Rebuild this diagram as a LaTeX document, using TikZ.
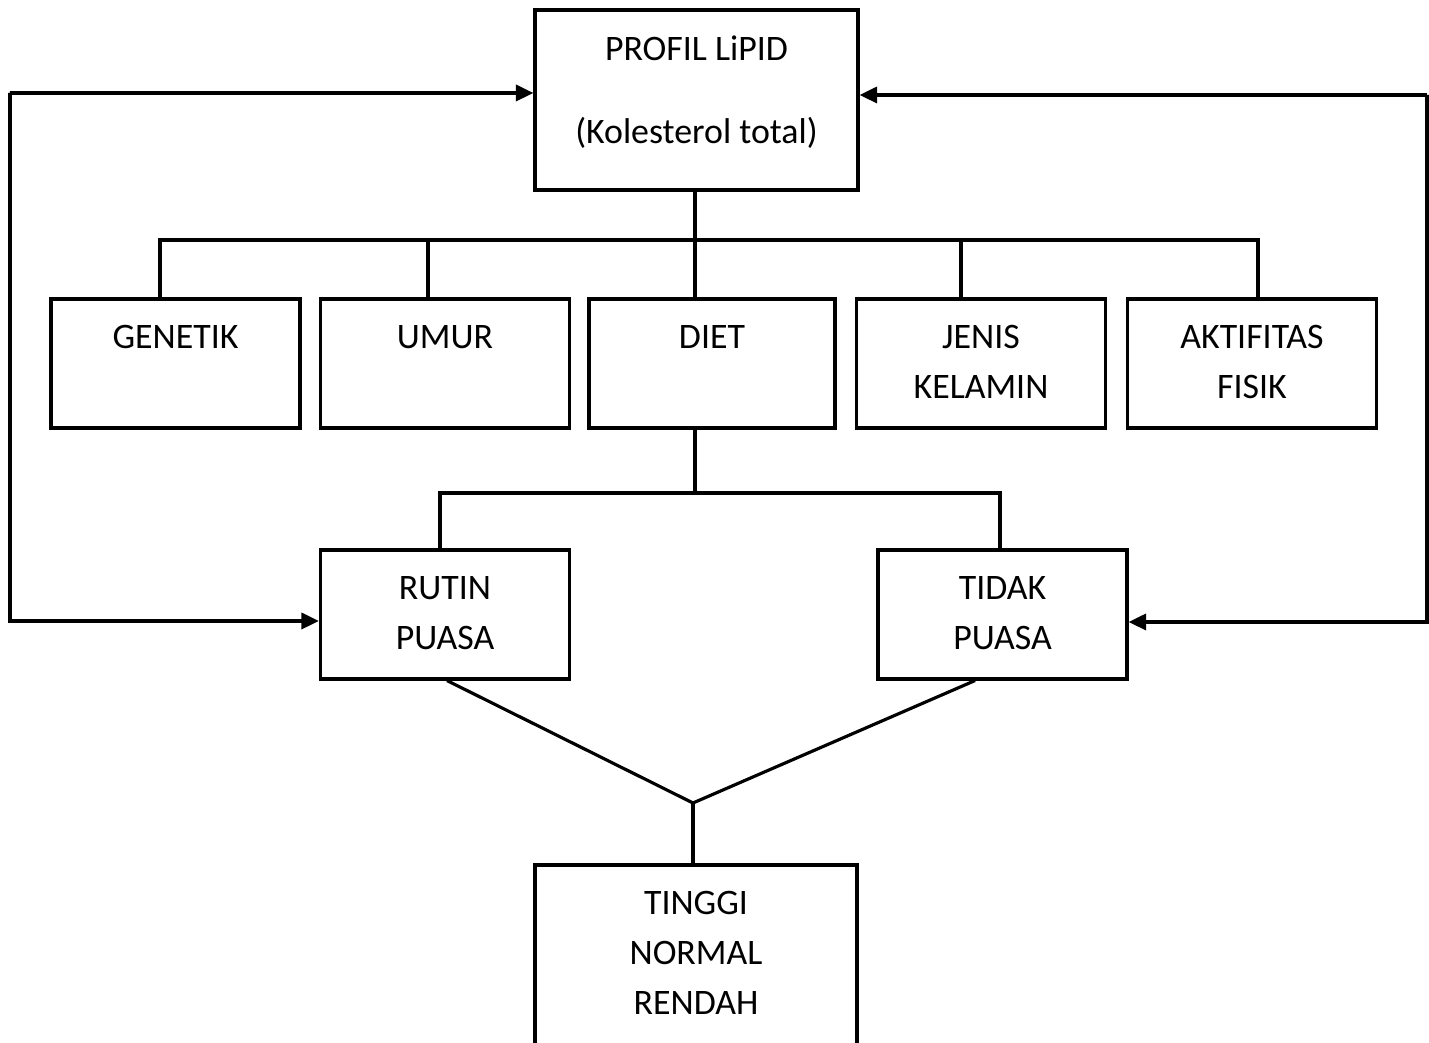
\documentclass[tikz,border=0pt]{standalone}
\usepackage{fontspec}
\setmainfont{Carlito}
\usetikzlibrary{arrows.meta,positioning}
\tikzset{
	>={Triangle[length=5pt,width=4.6pt]},
	box/.style = {
			draw,
			line width     = 0.9pt,
			minimum width  = 2.49cm,
			minimum height = 1.29cm,
			inner sep      = 0pt,
		},
	txt/.style = {
			font      = \fontsize{10.2}{14.2}\selectfont,
			align     = center,
			anchor    = north,
			inner sep = 0pt,
		}
}

\begin{document}
\begin{tikzpicture}[line width=0.9pt]
		\useasboundingbox (0,0) rectangle (14.29,10.43);

		\node[box, minimum width=3.23cm, minimum height=1.80cm] at (6.965,9.43) (profil) {};

		\node[box] at (1.755,6.795) (genetik) {};
		\node[box] at (4.45,6.795) (umur) {};
		\node[box, minimum width=2.46cm] at (7.12,6.795) (diet) {};
		\node[box] at (9.81,6.795) (jenis) {};
		\node[box] at (12.52,6.795) (aktif) {};

		\node[box] at (4.45,4.285) (rutin) {};
		\node[box] at (10.025,4.285) (tidak) {};

		\node[box, minimum width=3.22cm, minimum height=1.82cm] at (6.96,0.87) (hasil) {};

		% texts
		\node[txt] at ([yshift=-2.55mm]profil.north) (profil-t) {PROFIL LiPID\\[9.4pt](Kolesterol total)};
		\node[txt] at ([yshift=-2.65mm]genetik.north) (genetik-t) {GENETIK};
		\node[txt] at ([yshift=-2.65mm]umur.north) (umur-t) {UMUR};
		\node[txt] at ([yshift=-2.65mm]diet.north) (diet-t) {DIET};
		\node[txt] at ([yshift=-2.65mm]jenis.north) (jenis-t) {JENIS\\KELAMIN};
		\node[txt] at ([yshift=-2.65mm]aktif.north) (aktif-t) {AKTIFITAS\\FISIK};
		\node[txt] at ([yshift=-2.65mm]rutin.north) (rutin-t) {RUTIN\\PUASA};
		\node[txt] at ([yshift=-2.65mm]tidak.north) (tidak-t) {TIDAK\\PUASA};
		\node[txt] at ([yshift=-2.6mm]hasil.north) (hasil-t) {TINGGI\\NORMAL\\RENDAH};

		\coordinate (bus) at (6.95,8.03);
		\coordinate (split) at (6.95,5.50);
		\coordinate (join) at (6.93,2.40);
		\coordinate (lft) at (0.10,9.50);
		\coordinate (rgt) at (14.27,9.48);

		\draw (profil.south -| bus) -- (diet.north -| bus);
		\draw ([xshift=-1.55mm]genetik.north) |- (bus) -| ([xshift=0.6mm]aktif.north);
		\draw ([xshift=-1.7mm]umur.north) |- (bus);
		\draw ([xshift=-2mm]jenis.north) |- (bus);

		\draw (diet.south -| split) -- (split);
		\draw ([xshift=-0.5mm]rutin.north) |- (split) -| ([xshift=-0.25mm]tidak.north);

		\draw ([xshift=0.2mm]rutin.south) -- (join) -- ([xshift=-2.75mm]tidak.south);
		\draw (join) -- (join |- hasil.north);

		\draw[<->] ([yshift=-0.65mm]rutin.west) -| (lft) |- ([yshift=0.7mm]profil.west);
		\draw[<->] ([yshift=-0.75mm]tidak.east) -| (rgt) |- ([yshift=0.5mm]profil.east);
	\end{tikzpicture}
\end{document}
